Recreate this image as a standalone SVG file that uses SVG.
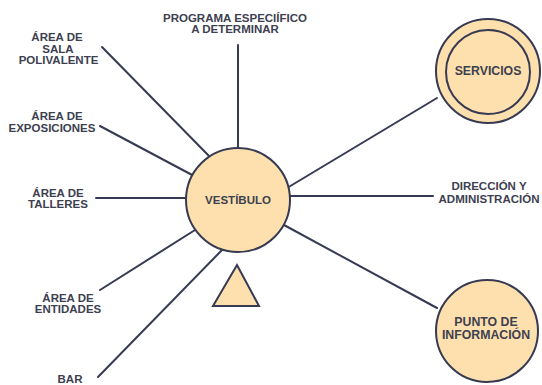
<svg xmlns="http://www.w3.org/2000/svg" width="542" height="385" viewBox="0 0 542 385">
<style>
.n{fill:#fde0ad;stroke:#363a52;stroke-width:2}
.c line{stroke:#363a52;stroke-width:2;stroke-linecap:round}
text{font-family:"Liberation Sans",Arial,sans-serif;font-weight:bold;font-size:11.5px;fill:#3d4050;text-anchor:middle}
.b{font-size:12.3px}
</style>
<rect width="542" height="385" fill="#ffffff"/>
<g id="connectors" class="c">
<line x1="238" y1="45" x2="238" y2="150"/>
<line x1="102" y1="47" x2="210" y2="157"/>
<line x1="100" y1="126" x2="194" y2="176"/>
<line x1="96" y1="198" x2="188" y2="198"/>
<line x1="100" y1="290" x2="195" y2="230"/>
<line x1="98" y1="377" x2="222" y2="250"/>
<line x1="287" y1="188" x2="437" y2="98"/>
<line x1="288" y1="196" x2="433" y2="196"/>
<line x1="284" y1="225" x2="437" y2="308"/>
</g>
<g id="vestibulo">
<circle class="n" cx="238" cy="200" r="52"/>
<text x="238" y="203.5">VESTÍBULO</text>
</g>
<g id="acceso">
<polygon class="n" points="237,265 213,306 259,306"/>
</g>
<g id="servicios">
<circle class="n" cx="488" cy="71" r="52"/>
<circle class="n" cx="488" cy="72" r="42"/>
<text class="b" x="488" y="74.5">SERVICIOS</text>
</g>
<g id="punto-informacion">
<circle class="n" cx="487" cy="331" r="51"/>
<text class="b" x="486" y="326">PUNTO DE</text>
<text class="b" x="486" y="338.5">INFORMACIÓN</text>
</g>
<g id="programa">
<text x="235" y="21.5">PROGRAMA ESPECIÍFICO</text>
<text x="235" y="33">A DETERMINAR</text>
</g>
<g id="sala-polivalente">
<text x="57" y="41">ÁREA DE</text>
<text x="58" y="52.5">SALA</text>
<text x="58.5" y="64">POLIVALENTE</text>
</g>
<g id="exposiciones">
<text x="57" y="120">ÁREA DE</text>
<text x="52" y="131.5">EXPOSICIONES</text>
</g>
<g id="talleres">
<text x="58" y="196.5">ÁREA DE</text>
<text x="58" y="208">TALLERES</text>
</g>
<g id="entidades">
<text x="68" y="301.5">ÁREA DE</text>
<text x="68" y="313">ENTIDADES</text>
</g>
<g id="bar">
<text x="70" y="383">BAR</text>
</g>
<g id="direccion">
<text x="489" y="190">DIRECCIÓN Y</text>
<text x="489" y="202.5">ADMINISTRACIÓN</text>
</g>
</svg>
